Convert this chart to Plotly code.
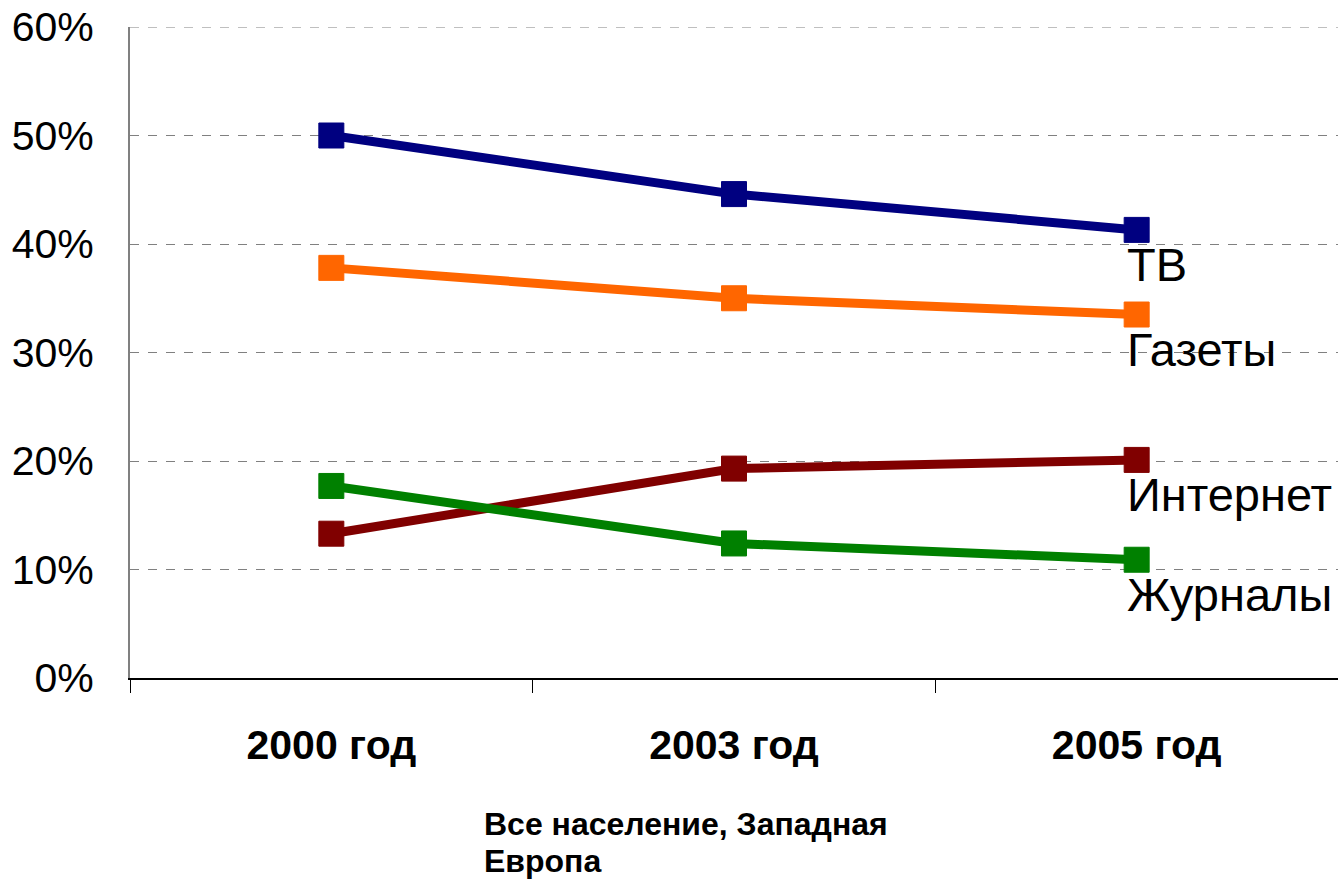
import plotly.graph_objects as go

# Media reach, all population, Western Europe
years = ["2000 год", "2003 год", "2005 год"]
series_names = ["ТВ", "Газеты", "Интернет", "Журналы"]
tv = [0.500, 0.446, 0.413]
newspapers = [0.378, 0.350, 0.335]
internet = [0.133, 0.193, 0.201]
magazines = [0.177, 0.124, 0.109]
y_ticks = [0, 0.1, 0.2, 0.3, 0.4, 0.5, 0.6]
y_tick_labels = ["0%", "10%", "20%", "30%", "40%", "50%", "60%"]
x_title_lines = ["Все население, Западная", "Европа"]

series_values = [tv, newspapers, internet, magazines]
colors = ["#000080", "#FF6600", "#800000", "#008000"]

fig = go.Figure()
for name, vals, col in zip(series_names, series_values, colors):
    fig.add_trace(go.Scatter(
        x=years, y=vals, name=name, mode="lines+markers",
        line=dict(color=col, width=9),
        marker=dict(symbol="square", size=25, color=col,
                    line=dict(color=col, width=1)),
        showlegend=False,
    ))
    # series label under the last point
    fig.add_annotation(
        x=years[-1], y=vals[-1], text=name, showarrow=False,
        xanchor="left", yanchor="middle", xshift=-12, yshift=-35,
        font=dict(family="Liberation Sans, Arial", size=47, color="#000000"),
    )

# top gridline at the upper edge of the value range
fig.add_shape(type="line", xref="paper", yref="y", x0=0, x1=1,
              y0=y_ticks[-1], y1=y_ticks[-1],
              line=dict(color="#808080", width=1, dash="dash"))

# two-line caption below the category axis, tighter leading
for i, line_text in enumerate(x_title_lines):
    fig.add_annotation(
        xref="paper", yref="paper", x=0.2915, y=-0.193, yshift=-37 * i,
        text="<b>" + line_text + "</b>", showarrow=False,
        xanchor="left", yanchor="top", align="left",
        font=dict(family="Liberation Sans, Arial", size=32, color="#000000"),
    )

fig.update_layout(
    width=1338, height=879,
    margin=dict(l=130, r=0, t=27, b=201),
    paper_bgcolor="white", plot_bgcolor="white",
    font=dict(family="Liberation Sans, Arial", color="#000000"),
)
fig.update_xaxes(
    type="category", range=[-0.5, 2.5],
    showline=True, linecolor="#000000", linewidth=1.5,
    ticks="outside", tickson="boundaries", ticklen=13, tickcolor="#000000", tickwidth=1,
    showgrid=False, ticklabelstandoff=30,
    tickfont=dict(family="Liberation Sans, Arial", size=41, color="#000000", weight="bold"),
)
fig.update_yaxes(
    range=[0, 0.6], tickvals=y_ticks, ticktext=y_tick_labels,
    showline=True, linecolor="#808080", linewidth=2,
    showgrid=True, gridcolor="#808080", gridwidth=1, griddash="dash",
    zeroline=False, ticks="", ticklabelstandoff=26,
    tickfont=dict(family="Liberation Sans, Arial", size=41, color="#000000"),
)

fig.write_html("out.html")
